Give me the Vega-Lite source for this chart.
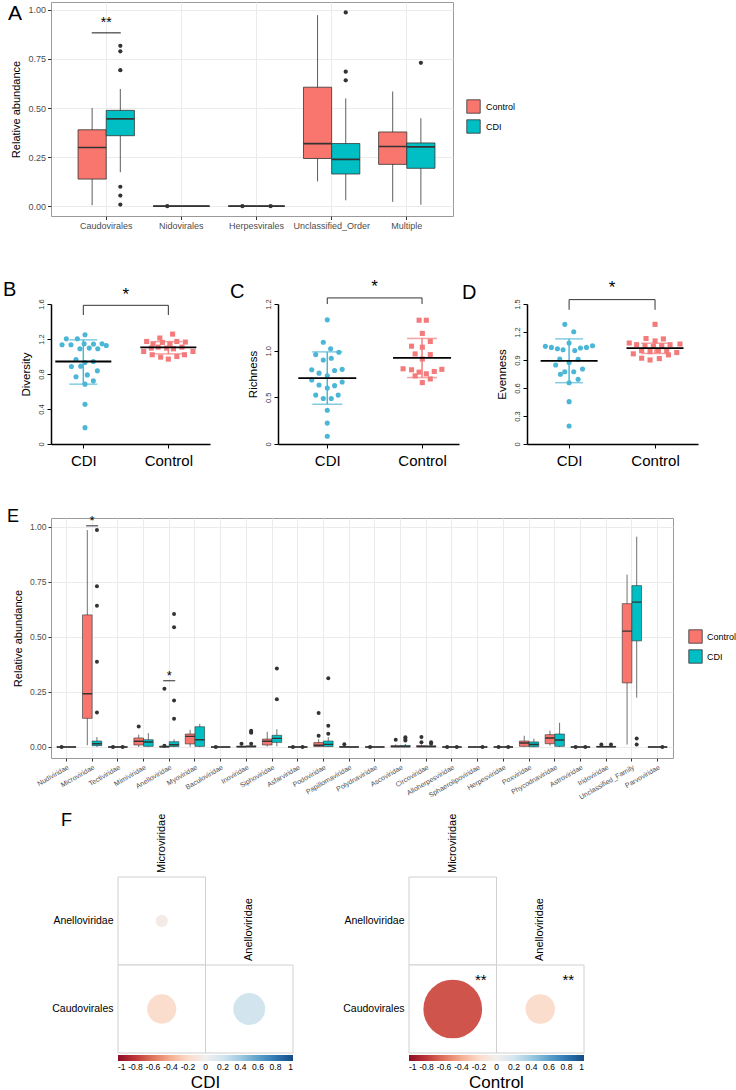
{
"$schema": "https://vega.github.io/schema/vega-lite/v6.json",
"padding": {"left": 3, "top": 1, "right": 0, "bottom": 0},
"config": {"font": "Liberation Sans", "view": {"stroke": null}, "axis": {"titleFontWeight": "normal"}, "title": {"fontWeight": "normal", "color": "black"}},
"datasets": {
"aBox": [
{"cat":"Caudovirales","grp":"Control","lo":0.005,"q1":0.138,"med":0.299,"q3":0.389,"hi":0.50},
{"cat":"Caudovirales","grp":"CDI","lo":0.173,"q1":0.359,"med":0.445,"q3":0.488,"hi":0.597},
{"cat":"Nidovirales","grp":"Control","lo":0,"q1":0,"med":0,"q3":0,"hi":0},
{"cat":"Nidovirales","grp":"CDI","lo":0,"q1":0,"med":0,"q3":0,"hi":0},
{"cat":"Herpesvirales","grp":"Control","lo":0,"q1":0,"med":0,"q3":0,"hi":0},
{"cat":"Herpesvirales","grp":"CDI","lo":0,"q1":0,"med":0,"q3":0,"hi":0},
{"cat":"Unclassified_Order","grp":"Control","lo":0.126,"q1":0.243,"med":0.319,"q3":0.606,"hi":0.973},
{"cat":"Unclassified_Order","grp":"CDI","lo":0.03,"q1":0.164,"med":0.238,"q3":0.319,"hi":0.549},
{"cat":"Multiple","grp":"Control","lo":0.022,"q1":0.213,"med":0.304,"q3":0.378,"hi":0.584},
{"cat":"Multiple","grp":"CDI","lo":0.008,"q1":0.193,"med":0.302,"q3":0.322,"hi":0.448}
],
"aOut": [
{"cat":"Caudovirales","grp":"CDI","v":0.817},{"cat":"Caudovirales","grp":"CDI","v":0.789},{"cat":"Caudovirales","grp":"CDI","v":0.693},
{"cat":"Caudovirales","grp":"CDI","v":0.099},{"cat":"Caudovirales","grp":"CDI","v":0.054},{"cat":"Caudovirales","grp":"CDI","v":0.008},
{"cat":"Nidovirales","grp":"Control","v":0},{"cat":"Herpesvirales","grp":"Control","v":0},{"cat":"Herpesvirales","grp":"CDI","v":0},
{"cat":"Unclassified_Order","grp":"CDI","v":0.987},{"cat":"Unclassified_Order","grp":"CDI","v":0.685},{"cat":"Unclassified_Order","grp":"CDI","v":0.641},
{"cat":"Multiple","grp":"CDI","v":0.73}
],
"eBox": [
{"cat":"Nudiviridae","grp":"Control","lo":0,"q1":0,"med":0,"q3":0,"hi":0},
{"cat":"Nudiviridae","grp":"CDI","lo":0,"q1":0,"med":0,"q3":0,"hi":0},
{"cat":"Microviridae","grp":"Control","lo":0.008,"q1":0.13,"med":0.242,"q3":0.60,"hi":0.985},
{"cat":"Microviridae","grp":"CDI","lo":0,"q1":0.006,"med":0.015,"q3":0.027,"hi":0.045},
{"cat":"Tectiviridae","grp":"Control","lo":0,"q1":0,"med":0,"q3":0,"hi":0},
{"cat":"Tectiviridae","grp":"CDI","lo":0,"q1":0,"med":0,"q3":0,"hi":0},
{"cat":"Mimiviridae","grp":"Control","lo":0,"q1":0.009,"med":0.026,"q3":0.041,"hi":0.056},
{"cat":"Mimiviridae","grp":"CDI","lo":0,"q1":0.003,"med":0.023,"q3":0.033,"hi":0.063},
{"cat":"Anelloviridae","grp":"Control","lo":0,"q1":0,"med":0.001,"q3":0.004,"hi":0.008},
{"cat":"Anelloviridae","grp":"CDI","lo":0,"q1":0.002,"med":0.01,"q3":0.024,"hi":0.035},
{"cat":"Myoviridae","grp":"Control","lo":0.001,"q1":0.014,"med":0.048,"q3":0.059,"hi":0.078},
{"cat":"Myoviridae","grp":"CDI","lo":0,"q1":0.003,"med":0.033,"q3":0.092,"hi":0.105},
{"cat":"Baculoviridae","grp":"Control","lo":0,"q1":0,"med":0,"q3":0,"hi":0},
{"cat":"Baculoviridae","grp":"CDI","lo":0,"q1":0,"med":0,"q3":0,"hi":0},
{"cat":"Inoviridae","grp":"Control","lo":0,"q1":0,"med":0.001,"q3":0.004,"hi":0.008},
{"cat":"Inoviridae","grp":"CDI","lo":0,"q1":0,"med":0.002,"q3":0.005,"hi":0.01},
{"cat":"Siphoviridae","grp":"Control","lo":0.002,"q1":0.009,"med":0.026,"q3":0.036,"hi":0.069},
{"cat":"Siphoviridae","grp":"CDI","lo":0.003,"q1":0.021,"med":0.039,"q3":0.053,"hi":0.081},
{"cat":"Asfarviridae","grp":"Control","lo":0,"q1":0,"med":0,"q3":0,"hi":0},
{"cat":"Asfarviridae","grp":"CDI","lo":0,"q1":0,"med":0,"q3":0,"hi":0},
{"cat":"Podoviridae","grp":"Control","lo":0,"q1":0.002,"med":0.008,"q3":0.02,"hi":0.035},
{"cat":"Podoviridae","grp":"CDI","lo":0,"q1":0.002,"med":0.012,"q3":0.027,"hi":0.045},
{"cat":"Papillomaviridae","grp":"Control","lo":0,"q1":0,"med":0,"q3":0.002,"hi":0.005},
{"cat":"Papillomaviridae","grp":"CDI","lo":0,"q1":0,"med":0,"q3":0,"hi":0},
{"cat":"Polydnaviridae","grp":"Control","lo":0,"q1":0,"med":0,"q3":0,"hi":0},
{"cat":"Polydnaviridae","grp":"CDI","lo":0,"q1":0,"med":0,"q3":0,"hi":0},
{"cat":"Ascoviridae","grp":"Control","lo":0,"q1":0,"med":0.002,"q3":0.006,"hi":0.012},
{"cat":"Ascoviridae","grp":"CDI","lo":0,"q1":0,"med":0.002,"q3":0.007,"hi":0.014},
{"cat":"Circoviridae","grp":"Control","lo":0,"q1":0,"med":0.002,"q3":0.006,"hi":0.012},
{"cat":"Circoviridae","grp":"CDI","lo":0,"q1":0,"med":0.002,"q3":0.005,"hi":0.01},
{"cat":"Alloherpesviridae","grp":"Control","lo":0,"q1":0,"med":0,"q3":0,"hi":0},
{"cat":"Alloherpesviridae","grp":"CDI","lo":0,"q1":0,"med":0,"q3":0,"hi":0},
{"cat":"Sphaerolipoviridae","grp":"Control","lo":0,"q1":0,"med":0,"q3":0,"hi":0},
{"cat":"Sphaerolipoviridae","grp":"CDI","lo":0,"q1":0,"med":0,"q3":0,"hi":0},
{"cat":"Herpesviridae","grp":"Control","lo":0,"q1":0,"med":0,"q3":0,"hi":0},
{"cat":"Herpesviridae","grp":"CDI","lo":0,"q1":0,"med":0,"q3":0,"hi":0},
{"cat":"Poxviridae","grp":"Control","lo":0,"q1":0.003,"med":0.018,"q3":0.027,"hi":0.051},
{"cat":"Poxviridae","grp":"CDI","lo":0,"q1":0.001,"med":0.011,"q3":0.023,"hi":0.038},
{"cat":"Phycodnaviridae","grp":"Control","lo":0.006,"q1":0.015,"med":0.041,"q3":0.056,"hi":0.074},
{"cat":"Phycodnaviridae","grp":"CDI","lo":0,"q1":0.003,"med":0.032,"q3":0.059,"hi":0.11},
{"cat":"Astroviridae","grp":"Control","lo":0,"q1":0,"med":0,"q3":0,"hi":0},
{"cat":"Astroviridae","grp":"CDI","lo":0,"q1":0,"med":0,"q3":0,"hi":0},
{"cat":"Iridoviridae","grp":"Control","lo":0,"q1":0,"med":0.001,"q3":0.003,"hi":0.006},
{"cat":"Iridoviridae","grp":"CDI","lo":0,"q1":0,"med":0.001,"q3":0.003,"hi":0.006},
{"cat":"Unclassified_Family","grp":"Control","lo":0.011,"q1":0.291,"med":0.526,"q3":0.651,"hi":0.783},
{"cat":"Unclassified_Family","grp":"CDI","lo":0.224,"q1":0.482,"med":0.658,"q3":0.733,"hi":0.955},
{"cat":"Parvoviridae","grp":"Control","lo":0,"q1":0,"med":0,"q3":0,"hi":0},
{"cat":"Parvoviridae","grp":"CDI","lo":0,"q1":0,"med":0,"q3":0,"hi":0}
],
"eOut": [
{"cat":"Nudiviridae","grp":"Control","v":0},
{"cat":"Microviridae","grp":"CDI","v":0.986},{"cat":"Microviridae","grp":"CDI","v":0.73},{"cat":"Microviridae","grp":"CDI","v":0.642},{"cat":"Microviridae","grp":"CDI","v":0.387},{"cat":"Microviridae","grp":"CDI","v":0.157},
{"cat":"Tectiviridae","grp":"Control","v":0},{"cat":"Tectiviridae","grp":"CDI","v":0},
{"cat":"Mimiviridae","grp":"Control","v":0.093},
{"cat":"Anelloviridae","grp":"Control","v":0.265},{"cat":"Anelloviridae","grp":"Control","v":0.006},
{"cat":"Anelloviridae","grp":"CDI","v":0.604},{"cat":"Anelloviridae","grp":"CDI","v":0.544},{"cat":"Anelloviridae","grp":"CDI","v":0.211},{"cat":"Anelloviridae","grp":"CDI","v":0.128},
{"cat":"Baculoviridae","grp":"Control","v":0},
{"cat":"Inoviridae","grp":"Control","v":0.015},{"cat":"Inoviridae","grp":"CDI","v":0.074},{"cat":"Inoviridae","grp":"CDI","v":0.068},{"cat":"Inoviridae","grp":"CDI","v":0.065},{"cat":"Inoviridae","grp":"CDI","v":0.015},
{"cat":"Siphoviridae","grp":"CDI","v":0.357},{"cat":"Siphoviridae","grp":"CDI","v":0.217},
{"cat":"Asfarviridae","grp":"Control","v":0},{"cat":"Asfarviridae","grp":"CDI","v":0},
{"cat":"Podoviridae","grp":"Control","v":0.154},{"cat":"Podoviridae","grp":"Control","v":0.051},
{"cat":"Podoviridae","grp":"CDI","v":0.312},{"cat":"Podoviridae","grp":"CDI","v":0.096},{"cat":"Podoviridae","grp":"CDI","v":0.06},
{"cat":"Papillomaviridae","grp":"Control","v":0.012},
{"cat":"Polydnaviridae","grp":"Control","v":0},
{"cat":"Ascoviridae","grp":"Control","v":0.033},{"cat":"Ascoviridae","grp":"CDI","v":0.044},{"cat":"Ascoviridae","grp":"CDI","v":0.036},{"cat":"Ascoviridae","grp":"CDI","v":0.029},
{"cat":"Circoviridae","grp":"Control","v":0.045},{"cat":"Circoviridae","grp":"Control","v":0.021},{"cat":"Circoviridae","grp":"CDI","v":0.021},{"cat":"Circoviridae","grp":"CDI","v":0.015},
{"cat":"Alloherpesviridae","grp":"Control","v":0},{"cat":"Alloherpesviridae","grp":"CDI","v":0},
{"cat":"Sphaerolipoviridae","grp":"CDI","v":0},
{"cat":"Herpesviridae","grp":"Control","v":0},{"cat":"Herpesviridae","grp":"CDI","v":0},
{"cat":"Astroviridae","grp":"Control","v":0},{"cat":"Astroviridae","grp":"CDI","v":0},
{"cat":"Iridoviridae","grp":"Control","v":0.011},{"cat":"Iridoviridae","grp":"CDI","v":0.011},
{"cat":"Unclassified_Family","grp":"CDI","v":0.038},{"cat":"Unclassified_Family","grp":"CDI","v":0.011},
{"cat":"Parvoviridae","grp":"CDI","v":0}
],
"eSig": [{"cat":"Microviridae","y":1.0045,"ty":1.026,"t":"*"},{"cat":"Anelloviridae","y":0.301,"ty":0.324,"t":"*"}],
"pts": [
{"p":"B","g":"CDI","u":1.02,"v":1.249},{"p":"B","g":"CDI","u":0.80,"v":1.203},{"p":"B","g":"CDI","u":0.93,"v":1.203},{"p":"B","g":"CDI","u":0.75,"v":1.134},
{"p":"B","g":"CDI","u":0.855,"v":1.134},{"p":"B","g":"CDI","u":1.01,"v":1.145},{"p":"B","g":"CDI","u":1.12,"v":1.142},{"p":"B","g":"CDI","u":1.22,"v":1.145},
{"p":"B","g":"CDI","u":1.27,"v":1.126},{"p":"B","g":"CDI","u":0.96,"v":1.088},{"p":"B","g":"CDI","u":1.07,"v":1.096},{"p":"B","g":"CDI","u":1.17,"v":1.088},
{"p":"B","g":"CDI","u":0.914,"v":0.966},{"p":"B","g":"CDI","u":1.02,"v":0.932},{"p":"B","g":"CDI","u":1.118,"v":0.943},{"p":"B","g":"CDI","u":0.86,"v":0.886},
{"p":"B","g":"CDI","u":0.97,"v":0.89},{"p":"B","g":"CDI","u":1.165,"v":0.836},{"p":"B","g":"CDI","u":0.914,"v":0.768},{"p":"B","g":"CDI","u":1.047,"v":0.79},
{"p":"B","g":"CDI","u":1.118,"v":0.722},{"p":"B","g":"CDI","u":1.02,"v":0.684},{"p":"B","g":"CDI","u":1.02,"v":0.454},{"p":"B","g":"CDI","u":1.02,"v":0.187},
{"p":"B","g":"Control","u":2.05,"v":1.256},{"p":"B","g":"Control","u":1.90,"v":1.211},{"p":"B","g":"Control","u":1.745,"v":1.172},{"p":"B","g":"Control","u":1.82,"v":1.146},
{"p":"B","g":"Control","u":1.93,"v":1.161},{"p":"B","g":"Control","u":2.02,"v":1.142},{"p":"B","g":"Control","u":2.10,"v":1.172},{"p":"B","g":"Control","u":2.20,"v":1.165},
{"p":"B","g":"Control","u":1.71,"v":1.058},{"p":"B","g":"Control","u":1.80,"v":1.096},{"p":"B","g":"Control","u":1.88,"v":1.107},{"p":"B","g":"Control","u":1.98,"v":1.096},
{"p":"B","g":"Control","u":2.06,"v":1.088},{"p":"B","g":"Control","u":2.16,"v":1.107},{"p":"B","g":"Control","u":2.29,"v":1.058},{"p":"B","g":"Control","u":1.81,"v":1.02},
{"p":"B","g":"Control","u":1.91,"v":0.993},{"p":"B","g":"Control","u":2.0,"v":0.97},{"p":"B","g":"Control","u":2.10,"v":1.0},{"p":"B","g":"Control","u":2.19,"v":1.02},
{"p":"C","g":"CDI","u":1.0,"v":1.33},{"p":"C","g":"CDI","u":0.958,"v":1.09},{"p":"C","g":"CDI","u":0.878,"v":0.958},{"p":"C","g":"CDI","u":1.035,"v":1.02},
{"p":"C","g":"CDI","u":1.122,"v":0.983},{"p":"C","g":"CDI","u":0.958,"v":0.90},{"p":"C","g":"CDI","u":1.042,"v":0.918},{"p":"C","g":"CDI","u":0.836,"v":0.795},
{"p":"C","g":"CDI","u":0.913,"v":0.759},{"p":"C","g":"CDI","u":1.077,"v":0.788},{"p":"C","g":"CDI","u":1.157,"v":0.80},{"p":"C","g":"CDI","u":0.836,"v":0.687},
{"p":"C","g":"CDI","u":1.0,"v":0.73},{"p":"C","g":"CDI","u":1.157,"v":0.665},{"p":"C","g":"CDI","u":0.913,"v":0.632},{"p":"C","g":"CDI","u":1.0,"v":0.60},
{"p":"C","g":"CDI","u":1.077,"v":0.625},{"p":"C","g":"CDI","u":0.878,"v":0.524},{"p":"C","g":"CDI","u":0.958,"v":0.488},{"p":"C","g":"CDI","u":1.042,"v":0.488},
{"p":"C","g":"CDI","u":1.115,"v":0.524},{"p":"C","g":"CDI","u":1.0,"v":0.361},{"p":"C","g":"CDI","u":1.0,"v":0.224},{"p":"C","g":"CDI","u":1.0,"v":0.083},
{"p":"C","g":"Control","u":1.969,"v":1.326},{"p":"C","g":"Control","u":2.045,"v":1.326},{"p":"C","g":"Control","u":2.003,"v":1.185},{"p":"C","g":"Control","u":1.889,"v":1.048},
{"p":"C","g":"Control","u":2.087,"v":1.099},{"p":"C","g":"Control","u":2.003,"v":1.037},{"p":"C","g":"Control","u":1.927,"v":0.965},{"p":"C","g":"Control","u":2.087,"v":0.958},
{"p":"C","g":"Control","u":2.003,"v":0.911},{"p":"C","g":"Control","u":1.80,"v":0.806},{"p":"C","g":"Control","u":1.889,"v":0.795},{"p":"C","g":"Control","u":1.969,"v":0.77},
{"p":"C","g":"Control","u":2.045,"v":0.752},{"p":"C","g":"Control","u":2.129,"v":0.777},{"p":"C","g":"Control","u":2.209,"v":0.80},{"p":"C","g":"Control","u":1.927,"v":0.73},
{"p":"C","g":"Control","u":2.087,"v":0.697},{"p":"C","g":"Control","u":2.003,"v":0.658},
{"p":"D","g":"CDI","u":0.95,"v":1.282},{"p":"D","g":"CDI","u":1.054,"v":1.202},{"p":"D","g":"CDI","u":0.724,"v":1.046},{"p":"D","g":"CDI","u":0.794,"v":1.035},
{"p":"D","g":"CDI","u":0.864,"v":1.021},{"p":"D","g":"CDI","u":0.93,"v":1.01},{"p":"D","g":"CDI","u":1.0,"v":1.082},{"p":"D","g":"CDI","u":1.066,"v":1.002},
{"p":"D","g":"CDI","u":1.132,"v":1.028},{"p":"D","g":"CDI","u":1.202,"v":1.035},{"p":"D","g":"CDI","u":1.272,"v":1.053},{"p":"D","g":"CDI","u":0.891,"v":0.91},
{"p":"D","g":"CDI","u":1.0,"v":0.872},{"p":"D","g":"CDI","u":1.105,"v":0.908},{"p":"D","g":"CDI","u":0.844,"v":0.846},{"p":"D","g":"CDI","u":0.949,"v":0.774},
{"p":"D","g":"CDI","u":1.054,"v":0.774},{"p":"D","g":"CDI","u":1.156,"v":0.803},{"p":"D","g":"CDI","u":0.899,"v":0.748},{"p":"D","g":"CDI","u":1.105,"v":0.694},
{"p":"D","g":"CDI","u":1.0,"v":0.657},{"p":"D","g":"CDI","u":1.0,"v":0.454},{"p":"D","g":"CDI","u":1.0,"v":0.193},
{"p":"D","g":"Control","u":2.0,"v":1.282},{"p":"D","g":"Control","u":1.895,"v":1.13},{"p":"D","g":"Control","u":2.0,"v":1.104},{"p":"D","g":"Control","u":2.097,"v":1.126},
{"p":"D","g":"Control","u":1.70,"v":1.082},{"p":"D","g":"Control","u":1.786,"v":1.064},{"p":"D","g":"Control","u":1.883,"v":1.053},{"p":"D","g":"Control","u":1.98,"v":1.046},
{"p":"D","g":"Control","u":2.078,"v":1.053},{"p":"D","g":"Control","u":2.175,"v":1.064},{"p":"D","g":"Control","u":2.29,"v":1.071},{"p":"D","g":"Control","u":1.747,"v":0.966},
{"p":"D","g":"Control","u":1.844,"v":1.0},{"p":"D","g":"Control","u":1.942,"v":0.99},{"p":"D","g":"Control","u":2.039,"v":1.0},{"p":"D","g":"Control","u":2.136,"v":1.0},
{"p":"D","g":"Control","u":2.253,"v":0.98},{"p":"D","g":"Control","u":1.844,"v":0.919},{"p":"D","g":"Control","u":1.942,"v":0.90},{"p":"D","g":"Control","u":2.05,"v":0.915},
{"p":"D","g":"Control","u":2.156,"v":0.955}
],
"sum": [
{"p":"B","g":"CDI","c":1,"mean":0.943,"lo":0.684,"hi":1.19},{"p":"B","g":"Control","c":2,"mean":1.104,"lo":1.03,"hi":1.17},
{"p":"C","g":"CDI","c":1,"mean":0.705,"lo":0.426,"hi":0.987},{"p":"C","g":"Control","c":2,"mean":0.922,"lo":0.712,"hi":1.131},
{"p":"D","g":"CDI","c":1,"mean":0.89,"lo":0.657,"hi":1.126},{"p":"D","g":"Control","c":2,"mean":1.028,"lo":0.97,"hi":1.08}
],
"br": [
{"p":"B","x":1,"x2":2,"y":1.585,"y2":1.585},{"p":"B","x":1,"x2":1,"y":1.474,"y2":1.585},{"p":"B","x":2,"x2":2,"y":1.474,"y2":1.585},
{"p":"C","x":1,"x2":2,"y":1.565,"y2":1.565},{"p":"C","x":1,"x2":1,"y":1.5,"y2":1.565},{"p":"C","x":2,"x2":2,"y":1.5,"y2":1.565},
{"p":"D","x":1,"x2":2,"y":1.547,"y2":1.547},{"p":"D","x":1,"x2":1,"y":1.438,"y2":1.547},{"p":"D","x":2,"x2":2,"y":1.438,"y2":1.547}
],
"stars": [{"p":"B","x":1.5,"y":1.706,"t":"*"},{"p":"C","x":1.5,"y":1.685,"t":"*"},{"p":"D","x":1.5,"y":1.674,"t":"*"}],
"corr": [
{"panel":"CDI","row":"Anelloviridae","col":"Microviridae","r":-0.04,"mag":0.031,"sig":""},
{"panel":"CDI","row":"Caudovirales","col":"Microviridae","r":-0.18,"mag":0.174,"sig":""},
{"panel":"CDI","row":"Caudovirales","col":"Anelloviridae","r":0.2,"mag":0.207,"sig":""},
{"panel":"Control","row":"Anelloviridae","col":"Microviridae","r":0,"mag":0,"sig":""},
{"panel":"Control","row":"Caudovirales","col":"Microviridae","r":-0.7,"mag":0.7,"sig":"**"},
{"panel":"Control","row":"Caudovirales","col":"Anelloviridae","r":-0.18,"mag":0.178,"sig":"**"}
],
"clab": [{"col":"Microviridae","row":"Anelloviridae"},{"col":"Anelloviridae","row":"Caudovirales"}]
},
"vconcat": [
{"vconcat": [
 {"vconcat": [
  {
   "width": 402, "height": 214,
   "view": {"stroke": "#9a9a9a"},
   "title": {"text": "A", "anchor": "start", "frame": "group", "offset": 0, "baseline": "alphabetic", "dx": -43, "dy": 39, "fontSize": 21},
   "layer": [
    {"data": {"name": "aBox"}, "mark": {"type": "rule", "color": "#333333", "strokeWidth": 0.8},
     "encoding": {
      "x": {"field": "cat", "type": "nominal", "sort": ["Caudovirales","Nidovirales","Herpesvirales","Unclassified_Order","Multiple"], "scale": {"paddingInner": 0.25, "paddingOuter": 0.3, "align": 0.6},
            "axis": {"title": null, "labelAngle": 0, "labelFontSize": 9, "labelColor": "#4d4d4d", "tickColor": "#333333", "tickSize": 3.5, "domain": false, "grid": true, "gridColor": "#ebebeb", "labelPadding": 2, "bandPosition": 0.5, "labelOverlap": false}},
      "xOffset": {"field": "grp", "type": "nominal", "sort": ["Control","CDI"], "scale": {"paddingInner": 0, "paddingOuter": 0}},
      "y": {"field": "lo", "type": "quantitative", "scale": {"domain": [-0.05, 1.04], "nice": false, "zero": false},
            "axis": {"title": "Relative abundance", "titleFontSize": 11, "titleColor": "black", "titlePadding": 6, "values": [0,0.25,0.5,0.75,1], "tickCount": 10, "format": ".2f", "labelFontSize": 9, "labelColor": "#4d4d4d", "tickColor": "#333333", "tickSize": 3.5, "domain": false, "grid": true, "gridColor": "#ebebeb", "labelPadding": 2}},
      "y2": {"field": "hi"}}},
    {"data": {"name": "aBox"}, "mark": {"type": "bar", "stroke": "#333333", "strokeWidth": 0.8},
     "encoding": {
      "x": {"field": "cat", "type": "nominal", "sort": ["Caudovirales","Nidovirales","Herpesvirales","Unclassified_Order","Multiple"]},
      "xOffset": {"field": "grp", "type": "nominal", "sort": ["Control","CDI"]},
      "y": {"field": "q1", "type": "quantitative", "scale": {"domain": [-0.05, 1.04], "nice": false, "zero": false}},
      "y2": {"field": "q3"},
      "color": {"field": "grp", "type": "nominal", "scale": {"domain": ["Control","CDI"], "range": ["#F8766D","#00BFC4"]},
        "legend": {"title": null, "orient": "none", "legendX": 415, "legendY": 97, "symbolType": "square", "symbolSize": 180, "symbolStrokeColor": "#333333", "symbolStrokeWidth": 0.8, "labelFontSize": 9, "labelColor": "black", "rowPadding": 3, "padding": 0, "labelOffset": 5}}}},
    {"data": {"name": "aBox"}, "mark": {"type": "bar", "stroke": "#333333", "strokeWidth": 1.7, "fillOpacity": 0},
     "encoding": {
      "x": {"field": "cat", "type": "nominal", "sort": ["Caudovirales","Nidovirales","Herpesvirales","Unclassified_Order","Multiple"]},
      "xOffset": {"field": "grp", "type": "nominal", "sort": ["Control","CDI"]},
      "y": {"field": "med", "type": "quantitative", "scale": {"domain": [-0.05, 1.04], "nice": false, "zero": false}},
      "y2": {"field": "med"}}},
    {"data": {"name": "aOut"}, "mark": {"type": "point", "filled": true, "color": "#333333", "size": 18, "opacity": 1},
     "encoding": {
      "x": {"field": "cat", "type": "nominal", "sort": ["Caudovirales","Nidovirales","Herpesvirales","Unclassified_Order","Multiple"]},
      "xOffset": {"field": "grp", "type": "nominal", "sort": ["Control","CDI"]},
      "y": {"field": "v", "type": "quantitative", "scale": {"domain": [-0.05, 1.04], "nice": false, "zero": false}}}},
    {"data": {"values": [{"cat": "Caudovirales", "y": 0.883, "ty": 0.935, "t": "**"}]}, "mark": {"type": "tick", "color": "black", "size": 29, "thickness": 1.3},
     "encoding": {
      "x": {"field": "cat", "type": "nominal", "sort": ["Caudovirales","Nidovirales","Herpesvirales","Unclassified_Order","Multiple"]},
      "y": {"field": "y", "type": "quantitative", "scale": {"domain": [-0.05, 1.04], "nice": false, "zero": false}}}},
    {"data": {"values": [{"cat": "Caudovirales", "y": 0.883, "ty": 0.935, "t": "**"}]}, "mark": {"type": "text", "fontSize": 14, "baseline": "middle"},
     "encoding": {
      "x": {"field": "cat", "type": "nominal", "sort": ["Caudovirales","Nidovirales","Herpesvirales","Unclassified_Order","Multiple"]},
      "y": {"field": "ty", "type": "quantitative", "scale": {"domain": [-0.05, 1.04], "nice": false, "zero": false}},
      "text": {"field": "t"}}}
   ]
  },
  {"hconcat": [
   {
    "width": 159, "height": 140,
    "title": {"text": "B", "anchor": "start", "frame": "group", "offset": 0, "baseline": "alphabetic", "dx": -48, "dy": 30, "fontSize": 20},
    "layer": [
     {"data": {"name": "pts"}, "transform": [{"filter": "datum.p == 'B'"}], "mark": {"type": "point", "filled": true, "size": 26, "opacity": 1},
      "encoding": {
       "x": {"field": "u", "type": "quantitative", "scale": {"domain": [0.62, 2.49], "nice": false, "zero": false},
             "axis": {"values": [1,2], "labelExpr": "datum.value == 1 ? 'CDI' : 'Control'", "title": null, "grid": false, "domainColor": "black", "domainWidth": 1.5, "tickColor": "black", "tickSize": 4, "labelFontSize": 15, "labelColor": "black", "labelPadding": 5}},
       "y": {"field": "v", "type": "quantitative", "scale": {"domain": [0, 1.6], "nice": false},
             "axis": {"values": [0,0.4,0.8,1.2,1.6], "tickCount": 10, "labelExpr": "datum.value == 0 ? '0' : format(datum.value, '.1f')", "labelAngle": -90, "labelAlign": "center", "labelBaseline": "bottom", "labelFontSize": 7.5, "labelColor": "#333333", "labelOverlap": false, "tickSize": 4, "tickColor": "black", "domainColor": "black", "domainWidth": 1.5, "grid": false, "title": "Diversity", "titleFontSize": 11.5, "titleColor": "black", "titlePadding": 6, "labelPadding": 2}},
       "color": {"field": "g", "type": "nominal", "scale": {"domain": ["CDI","Control"], "range": ["#4BB6D6","#F47B7B"]}, "legend": null},
       "shape": {"field": "g", "type": "nominal", "scale": {"domain": ["CDI","Control"], "range": ["circle","square"]}, "legend": null}}},
     {"data": {"name": "sum"}, "transform": [{"filter": "datum.p == 'B'"}], "mark": {"type": "rule", "strokeWidth": 1.5},
      "encoding": {"x": {"field": "c", "type": "quantitative"}, "y": {"field": "lo", "type": "quantitative"}, "y2": {"field": "hi"}, "color": {"field": "g", "type": "nominal", "legend": null}}},
     {"data": {"name": "sum"}, "transform": [{"filter": "datum.p == 'B'"}], "mark": {"type": "tick", "orient": "horizontal", "size": 28, "thickness": 1.5},
      "encoding": {"x": {"field": "c", "type": "quantitative"}, "y": {"field": "lo", "type": "quantitative"}, "color": {"field": "g", "type": "nominal", "legend": null}}},
     {"data": {"name": "sum"}, "transform": [{"filter": "datum.p == 'B'"}], "mark": {"type": "tick", "orient": "horizontal", "size": 28, "thickness": 1.5},
      "encoding": {"x": {"field": "c", "type": "quantitative"}, "y": {"field": "hi", "type": "quantitative"}, "color": {"field": "g", "type": "nominal", "legend": null}}},
     {"data": {"name": "sum"}, "transform": [{"filter": "datum.p == 'B'"}], "mark": {"type": "tick", "orient": "horizontal", "size": 56, "thickness": 1.8, "color": "black", "opacity": 1},
      "encoding": {"x": {"field": "c", "type": "quantitative"}, "y": {"field": "mean", "type": "quantitative"}}},
     {"data": {"name": "br"}, "transform": [{"filter": "datum.p == 'B'"}], "mark": {"type": "rule", "color": "#333333", "strokeWidth": 1},
      "encoding": {"x": {"field": "x", "type": "quantitative"}, "x2": {"field": "x2"}, "y": {"field": "y", "type": "quantitative"}, "y2": {"field": "y2"}}},
     {"data": {"name": "stars"}, "transform": [{"filter": "datum.p == 'B'"}], "mark": {"type": "text", "fontSize": 17, "baseline": "middle"},
      "encoding": {"x": {"field": "x", "type": "quantitative"}, "y": {"field": "y", "type": "quantitative"}, "text": {"field": "t"}}}
    ]
   },
   {
    "width": 181, "height": 140,
    "title": {"text": "C", "anchor": "start", "frame": "group", "offset": 0, "baseline": "alphabetic", "dx": -48, "dy": 40, "fontSize": 20},
    "layer": [
     {"data": {"name": "pts"}, "transform": [{"filter": "datum.p == 'C'"}], "mark": {"type": "point", "filled": true, "size": 26, "opacity": 1},
      "encoding": {
       "x": {"field": "u", "type": "quantitative", "scale": {"domain": [0.48, 2.39], "nice": false, "zero": false},
             "axis": {"values": [1,2], "labelExpr": "datum.value == 1 ? 'CDI' : 'Control'", "title": null, "grid": false, "domainColor": "black", "domainWidth": 1.5, "tickColor": "black", "tickSize": 4, "labelFontSize": 15, "labelColor": "black", "labelPadding": 5}},
       "y": {"field": "v", "type": "quantitative", "scale": {"domain": [0, 1.5], "nice": false},
             "axis": {"values": [0,0.5,1,1.5], "tickCount": 10, "labelExpr": "datum.value == 1.5 ? '1.2' : (datum.value == 0 ? '0' : format(datum.value, '.1f'))", "labelAngle": -90, "labelAlign": "center", "labelBaseline": "bottom", "labelFontSize": 7.5, "labelColor": "#333333", "labelOverlap": false, "tickSize": 4, "tickColor": "black", "domainColor": "black", "domainWidth": 1.5, "grid": false, "title": "Richness", "titleFontSize": 11.5, "titleColor": "black", "titlePadding": 6, "labelPadding": 2}},
       "color": {"field": "g", "type": "nominal", "scale": {"domain": ["CDI","Control"], "range": ["#4BB6D6","#F47B7B"]}, "legend": null},
       "shape": {"field": "g", "type": "nominal", "scale": {"domain": ["CDI","Control"], "range": ["circle","square"]}, "legend": null}}},
     {"data": {"name": "sum"}, "transform": [{"filter": "datum.p == 'C'"}], "mark": {"type": "rule", "strokeWidth": 1.5},
      "encoding": {"x": {"field": "c", "type": "quantitative"}, "y": {"field": "lo", "type": "quantitative"}, "y2": {"field": "hi"}, "color": {"field": "g", "type": "nominal", "legend": null}}},
     {"data": {"name": "sum"}, "transform": [{"filter": "datum.p == 'C'"}], "mark": {"type": "tick", "orient": "horizontal", "size": 30, "thickness": 1.5},
      "encoding": {"x": {"field": "c", "type": "quantitative"}, "y": {"field": "lo", "type": "quantitative"}, "color": {"field": "g", "type": "nominal", "legend": null}}},
     {"data": {"name": "sum"}, "transform": [{"filter": "datum.p == 'C'"}], "mark": {"type": "tick", "orient": "horizontal", "size": 30, "thickness": 1.5},
      "encoding": {"x": {"field": "c", "type": "quantitative"}, "y": {"field": "hi", "type": "quantitative"}, "color": {"field": "g", "type": "nominal", "legend": null}}},
     {"data": {"name": "sum"}, "transform": [{"filter": "datum.p == 'C'"}], "mark": {"type": "tick", "orient": "horizontal", "size": 58, "thickness": 1.8, "color": "black", "opacity": 1},
      "encoding": {"x": {"field": "c", "type": "quantitative"}, "y": {"field": "mean", "type": "quantitative"}}},
     {"data": {"name": "br"}, "transform": [{"filter": "datum.p == 'C'"}], "mark": {"type": "rule", "color": "#333333", "strokeWidth": 1},
      "encoding": {"x": {"field": "x", "type": "quantitative"}, "x2": {"field": "x2"}, "y": {"field": "y", "type": "quantitative"}, "y2": {"field": "y2"}}},
     {"data": {"name": "stars"}, "transform": [{"filter": "datum.p == 'C'"}], "mark": {"type": "text", "fontSize": 17, "baseline": "middle"},
      "encoding": {"x": {"field": "x", "type": "quantitative"}, "y": {"field": "y", "type": "quantitative"}, "text": {"field": "t"}}}
    ]
   },
   {
    "width": 171, "height": 140,
    "title": {"text": "D", "anchor": "start", "frame": "group", "offset": 0, "baseline": "alphabetic", "dx": -65, "dy": 40, "fontSize": 20},
    "layer": [
     {"data": {"name": "pts"}, "transform": [{"filter": "datum.p == 'D'"}], "mark": {"type": "point", "filled": true, "size": 26, "opacity": 1},
      "encoding": {
       "x": {"field": "u", "type": "quantitative", "scale": {"domain": [0.51, 2.5], "nice": false, "zero": false},
             "axis": {"values": [1,2], "labelExpr": "datum.value == 1 ? 'CDI' : 'Control'", "title": null, "grid": false, "domainColor": "black", "domainWidth": 1.5, "tickColor": "black", "tickSize": 4, "labelFontSize": 15, "labelColor": "black", "labelPadding": 5}},
       "y": {"field": "v", "type": "quantitative", "scale": {"domain": [0, 1.5], "nice": false},
             "axis": {"values": [0,0.3,0.6,0.9,1.2,1.5], "tickCount": 10, "labelExpr": "datum.value == 0 ? '0' : format(datum.value, '.1f')", "labelAngle": -90, "labelAlign": "center", "labelBaseline": "bottom", "labelFontSize": 7.5, "labelColor": "#333333", "labelOverlap": false, "tickSize": 4, "tickColor": "black", "domainColor": "black", "domainWidth": 1.5, "grid": false, "title": "Evenness", "titleFontSize": 11.5, "titleColor": "black", "titlePadding": 6, "labelPadding": 2}},
       "color": {"field": "g", "type": "nominal", "scale": {"domain": ["CDI","Control"], "range": ["#4BB6D6","#F47B7B"]}, "legend": null},
       "shape": {"field": "g", "type": "nominal", "scale": {"domain": ["CDI","Control"], "range": ["circle","square"]}, "legend": null}}},
     {"data": {"name": "sum"}, "transform": [{"filter": "datum.p == 'D'"}], "mark": {"type": "rule", "strokeWidth": 1.5},
      "encoding": {"x": {"field": "c", "type": "quantitative"}, "y": {"field": "lo", "type": "quantitative"}, "y2": {"field": "hi"}, "color": {"field": "g", "type": "nominal", "legend": null}}},
     {"data": {"name": "sum"}, "transform": [{"filter": "datum.p == 'D'"}], "mark": {"type": "tick", "orient": "horizontal", "size": 28, "thickness": 1.5},
      "encoding": {"x": {"field": "c", "type": "quantitative"}, "y": {"field": "lo", "type": "quantitative"}, "color": {"field": "g", "type": "nominal", "legend": null}}},
     {"data": {"name": "sum"}, "transform": [{"filter": "datum.p == 'D'"}], "mark": {"type": "tick", "orient": "horizontal", "size": 28, "thickness": 1.5},
      "encoding": {"x": {"field": "c", "type": "quantitative"}, "y": {"field": "hi", "type": "quantitative"}, "color": {"field": "g", "type": "nominal", "legend": null}}},
     {"data": {"name": "sum"}, "transform": [{"filter": "datum.p == 'D'"}], "mark": {"type": "tick", "orient": "horizontal", "size": 57, "thickness": 1.8, "color": "black", "opacity": 1},
      "encoding": {"x": {"field": "c", "type": "quantitative"}, "y": {"field": "mean", "type": "quantitative"}}},
     {"data": {"name": "br"}, "transform": [{"filter": "datum.p == 'D'"}], "mark": {"type": "rule", "color": "#333333", "strokeWidth": 1},
      "encoding": {"x": {"field": "x", "type": "quantitative"}, "x2": {"field": "x2"}, "y": {"field": "y", "type": "quantitative"}, "y2": {"field": "y2"}}},
     {"data": {"name": "stars"}, "transform": [{"filter": "datum.p == 'D'"}], "mark": {"type": "text", "fontSize": 17, "baseline": "middle"},
      "encoding": {"x": {"field": "x", "type": "quantitative"}, "y": {"field": "y", "type": "quantitative"}, "text": {"field": "t"}}}
    ]
   }
  ], "spacing": 68, "bounds": "flush",
  "resolve": {"scale": {"color": "independent", "shape": "independent", "xOffset": "independent"}, "legend": {"color": "independent", "shape": "independent"}}}
 ], "spacing": 46,
 "resolve": {"scale": {"color": "independent", "shape": "independent", "xOffset": "independent"}, "legend": {"color": "independent", "shape": "independent"}}},
 {
  "width": 622, "height": 240,
  "view": {"stroke": "#9a9a9a"},
  "title": {"text": "E", "anchor": "start", "frame": "group", "offset": 0, "baseline": "alphabetic", "dx": -44, "dy": 25, "fontSize": 18},
  "layer": [
   {"data": {"name": "eBox"}, "mark": {"type": "rule", "color": "#333333", "strokeWidth": 0.7},
    "encoding": {
     "x": {"field": "cat", "type": "nominal", "sort": ["Nudiviridae","Microviridae","Tectiviridae","Mimiviridae","Anelloviridae","Myoviridae","Baculoviridae","Inoviridae","Siphoviridae","Asfarviridae","Podoviridae","Papillomaviridae","Polydnaviridae","Ascoviridae","Circoviridae","Alloherpesviridae","Sphaerolipoviridae","Herpesviridae","Poxviridae","Phycodnaviridae","Astroviridae","Iridoviridae","Unclassified_Family","Parvoviridae"],
           "scale": {"paddingInner": 0.25, "paddingOuter": 0.225},
           "axis": {"title": null, "labelAngle": -30, "labelAlign": "right", "labelBaseline": "top", "labelFontSize": 7, "labelColor": "#4d4d4d", "tickColor": "#333333", "tickSize": 3, "domain": false, "grid": true, "gridColor": "#ebebeb", "labelPadding": 2, "bandPosition": 0.5, "labelOverlap": false, "labelLimit": 0}},
     "xOffset": {"field": "grp", "type": "nominal", "sort": ["Control","CDI"], "scale": {"paddingInner": 0, "paddingOuter": 0}},
     "y": {"field": "lo", "type": "quantitative", "scale": {"domain": [-0.05, 1.04], "nice": false, "zero": false},
           "axis": {"title": "Relative abundance", "titleFontSize": 11, "titleColor": "black", "titlePadding": 6, "values": [0,0.25,0.5,0.75,1], "tickCount": 10, "format": ".2f", "labelFontSize": 8.5, "labelColor": "#4d4d4d", "tickColor": "#333333", "tickSize": 3, "domain": false, "grid": true, "gridColor": "#ebebeb", "labelPadding": 2}},
     "y2": {"field": "hi"}}},
   {"data": {"name": "eBox"}, "mark": {"type": "bar", "stroke": "#333333", "strokeWidth": 0.6},
    "encoding": {
     "x": {"field": "cat", "type": "nominal", "sort": ["Nudiviridae","Microviridae","Tectiviridae","Mimiviridae","Anelloviridae","Myoviridae","Baculoviridae","Inoviridae","Siphoviridae","Asfarviridae","Podoviridae","Papillomaviridae","Polydnaviridae","Ascoviridae","Circoviridae","Alloherpesviridae","Sphaerolipoviridae","Herpesviridae","Poxviridae","Phycodnaviridae","Astroviridae","Iridoviridae","Unclassified_Family","Parvoviridae"]},
     "xOffset": {"field": "grp", "type": "nominal", "sort": ["Control","CDI"]},
     "y": {"field": "q1", "type": "quantitative", "scale": {"domain": [-0.05, 1.04], "nice": false, "zero": false}},
     "y2": {"field": "q3"},
     "color": {"field": "grp", "type": "nominal", "scale": {"domain": ["Control","CDI"], "range": ["#F8766D","#00BFC4"]},
       "legend": {"title": null, "orient": "none", "legendX": 637, "legendY": 111, "symbolType": "square", "symbolSize": 180, "symbolStrokeColor": "#333333", "symbolStrokeWidth": 0.8, "labelFontSize": 9, "labelColor": "black", "rowPadding": 3, "padding": 0, "labelOffset": 4}}}},
   {"data": {"name": "eBox"}, "mark": {"type": "bar", "stroke": "#333333", "strokeWidth": 1.4, "fillOpacity": 0},
    "encoding": {
     "x": {"field": "cat", "type": "nominal", "sort": ["Nudiviridae","Microviridae","Tectiviridae","Mimiviridae","Anelloviridae","Myoviridae","Baculoviridae","Inoviridae","Siphoviridae","Asfarviridae","Podoviridae","Papillomaviridae","Polydnaviridae","Ascoviridae","Circoviridae","Alloherpesviridae","Sphaerolipoviridae","Herpesviridae","Poxviridae","Phycodnaviridae","Astroviridae","Iridoviridae","Unclassified_Family","Parvoviridae"]},
     "xOffset": {"field": "grp", "type": "nominal", "sort": ["Control","CDI"]},
     "y": {"field": "med", "type": "quantitative", "scale": {"domain": [-0.05, 1.04], "nice": false, "zero": false}},
     "y2": {"field": "med"}}},
   {"data": {"name": "eOut"}, "mark": {"type": "point", "filled": true, "color": "#333333", "size": 16, "opacity": 1},
    "encoding": {
     "x": {"field": "cat", "type": "nominal", "sort": ["Nudiviridae","Microviridae","Tectiviridae","Mimiviridae","Anelloviridae","Myoviridae","Baculoviridae","Inoviridae","Siphoviridae","Asfarviridae","Podoviridae","Papillomaviridae","Polydnaviridae","Ascoviridae","Circoviridae","Alloherpesviridae","Sphaerolipoviridae","Herpesviridae","Poxviridae","Phycodnaviridae","Astroviridae","Iridoviridae","Unclassified_Family","Parvoviridae"]},
     "xOffset": {"field": "grp", "type": "nominal", "sort": ["Control","CDI"]},
     "y": {"field": "v", "type": "quantitative", "scale": {"domain": [-0.05, 1.04], "nice": false, "zero": false}}}},
   {"data": {"name": "eSig"}, "mark": {"type": "tick", "color": "black", "size": 12, "thickness": 1.2},
    "encoding": {
     "x": {"field": "cat", "type": "nominal", "sort": ["Nudiviridae","Microviridae","Tectiviridae","Mimiviridae","Anelloviridae","Myoviridae","Baculoviridae","Inoviridae","Siphoviridae","Asfarviridae","Podoviridae","Papillomaviridae","Polydnaviridae","Ascoviridae","Circoviridae","Alloherpesviridae","Sphaerolipoviridae","Herpesviridae","Poxviridae","Phycodnaviridae","Astroviridae","Iridoviridae","Unclassified_Family","Parvoviridae"]},
     "y": {"field": "y", "type": "quantitative", "scale": {"domain": [-0.05, 1.04], "nice": false, "zero": false}}}},
   {"data": {"name": "eSig"}, "mark": {"type": "text", "fontSize": 13, "baseline": "middle"},
    "encoding": {
     "x": {"field": "cat", "type": "nominal", "sort": ["Nudiviridae","Microviridae","Tectiviridae","Mimiviridae","Anelloviridae","Myoviridae","Baculoviridae","Inoviridae","Siphoviridae","Asfarviridae","Podoviridae","Papillomaviridae","Polydnaviridae","Ascoviridae","Circoviridae","Alloherpesviridae","Sphaerolipoviridae","Herpesviridae","Poxviridae","Phycodnaviridae","Astroviridae","Iridoviridae","Unclassified_Family","Parvoviridae"]},
     "y": {"field": "ty", "type": "quantitative", "scale": {"domain": [-0.05, 1.04], "nice": false, "zero": false}},
     "text": {"field": "t"}}}
  ]
 }
], "spacing": 39,
"resolve": {"scale": {"color": "independent", "shape": "independent", "xOffset": "independent"}, "legend": {"color": "independent", "shape": "independent"}}},
{"hconcat": [
 {"width": 67, "height": 176, "data": {"values": [{}]}, "mark": {"type": "point", "opacity": 0}, "encoding": {},
  "title": {"text": "F", "anchor": "start", "frame": "group", "offset": 0, "baseline": "alphabetic", "dx": 10, "dy": -33, "fontSize": 18}},
 {"hconcat": [
  {
   "width": 175, "height": 176,
   "title": {"text": "CDI", "orient": "bottom", "anchor": "middle", "fontSize": 17, "offset": 3},
   "layer": [
    {"data": {"name": "corr"}, "transform": [{"filter": "datum.panel == 'CDI'"}], "mark": {"type": "rect", "fill": "white", "stroke": "#d0d0d0", "strokeWidth": 1},
     "encoding": {
      "x": {"field": "col", "type": "nominal", "sort": ["Microviridae","Anelloviridae"], "scale": {"paddingInner": 0, "paddingOuter": 0}, "axis": null},
      "y": {"field": "row", "type": "nominal", "sort": ["Anelloviridae","Caudovirales"], "scale": {"paddingInner": 0, "paddingOuter": 0},
            "axis": {"title": null, "domain": false, "ticks": false, "labelFontSize": 10.5, "labelColor": "black", "labelPadding": 5}}}},
    {"data": {"name": "corr"}, "transform": [{"filter": "datum.panel == 'CDI'"}], "mark": {"type": "point", "filled": true, "shape": "circle", "opacity": 1},
     "encoding": {
      "x": {"field": "col", "type": "nominal", "sort": ["Microviridae","Anelloviridae"]},
      "y": {"field": "row", "type": "nominal", "sort": ["Anelloviridae","Caudovirales"]},
      "size": {"field": "mag", "type": "quantitative", "scale": {"domain": [0, 1], "range": [0, 4926]}, "legend": null},
      "color": {"field": "r", "type": "quantitative", "scale": {"scheme": "redblue", "domain": [-1, 1]},
        "legend": {"title": null, "orient": "none", "legendX": 0, "legendY": 178, "direction": "horizontal", "gradientLength": 175, "gradientThickness": 6, "values": [-1,-0.8,-0.6,-0.4,-0.2,0,0.2,0.4,0.6,0.8,1], "labelExpr": "'' + datum.value", "labelFontSize": 8.5, "labelColor": "black", "labelOverlap": false, "labelOffset": 2, "padding": 0}}}},
    {"data": {"name": "corr"}, "transform": [{"filter": "datum.panel == 'CDI'"}], "mark": {"type": "text", "fontSize": 15, "baseline": "middle"},
     "encoding": {
      "x": {"field": "col", "type": "nominal", "sort": ["Microviridae","Anelloviridae"], "bandPosition": 0.82},
      "y": {"field": "row", "type": "nominal", "sort": ["Anelloviridae","Caudovirales"], "bandPosition": 0.17},
      "text": {"field": "sig"}}},
    {"data": {"name": "clab"}, "mark": {"type": "text", "angle": -90, "align": "left", "baseline": "middle", "dx": 4, "fontSize": 11},
     "encoding": {
      "x": {"field": "col", "type": "nominal", "sort": ["Microviridae","Anelloviridae"]},
      "y": {"field": "row", "type": "nominal", "sort": ["Anelloviridae","Caudovirales"], "bandPosition": 0},
      "text": {"field": "col"}}}
   ]
  },
  {
   "width": 175, "height": 176,
   "title": {"text": "Control", "orient": "bottom", "anchor": "middle", "fontSize": 17, "offset": 3},
   "layer": [
    {"data": {"name": "corr"}, "transform": [{"filter": "datum.panel == 'Control'"}], "mark": {"type": "rect", "fill": "white", "stroke": "#d0d0d0", "strokeWidth": 1},
     "encoding": {
      "x": {"field": "col", "type": "nominal", "sort": ["Microviridae","Anelloviridae"], "scale": {"paddingInner": 0, "paddingOuter": 0}, "axis": null},
      "y": {"field": "row", "type": "nominal", "sort": ["Anelloviridae","Caudovirales"], "scale": {"paddingInner": 0, "paddingOuter": 0},
            "axis": {"title": null, "domain": false, "ticks": false, "labelFontSize": 10.5, "labelColor": "black", "labelPadding": 5}}}},
    {"data": {"name": "corr"}, "transform": [{"filter": "datum.panel == 'Control'"}], "mark": {"type": "point", "filled": true, "shape": "circle", "opacity": 1},
     "encoding": {
      "x": {"field": "col", "type": "nominal", "sort": ["Microviridae","Anelloviridae"]},
      "y": {"field": "row", "type": "nominal", "sort": ["Anelloviridae","Caudovirales"]},
      "size": {"field": "mag", "type": "quantitative", "scale": {"domain": [0, 1], "range": [0, 4926]}, "legend": null},
      "color": {"field": "r", "type": "quantitative", "scale": {"scheme": "redblue", "domain": [-1, 1]},
        "legend": {"title": null, "orient": "none", "legendX": 0, "legendY": 178, "direction": "horizontal", "gradientLength": 175, "gradientThickness": 6, "values": [-1,-0.8,-0.6,-0.4,-0.2,0,0.2,0.4,0.6,0.8,1], "labelExpr": "'' + datum.value", "labelFontSize": 8.5, "labelColor": "black", "labelOverlap": false, "labelOffset": 2, "padding": 0}}}},
    {"data": {"name": "corr"}, "transform": [{"filter": "datum.panel == 'Control'"}], "mark": {"type": "text", "fontSize": 15, "baseline": "middle"},
     "encoding": {
      "x": {"field": "col", "type": "nominal", "sort": ["Microviridae","Anelloviridae"], "bandPosition": 0.82},
      "y": {"field": "row", "type": "nominal", "sort": ["Anelloviridae","Caudovirales"], "bandPosition": 0.17},
      "text": {"field": "sig"}}},
    {"data": {"name": "clab"}, "mark": {"type": "text", "angle": -90, "align": "left", "baseline": "middle", "dx": 4, "fontSize": 11},
     "encoding": {
      "x": {"field": "col", "type": "nominal", "sort": ["Microviridae","Anelloviridae"]},
      "y": {"field": "row", "type": "nominal", "sort": ["Anelloviridae","Caudovirales"], "bandPosition": 0},
      "text": {"field": "col"}}}
   ]
  }
 ], "spacing": 116, "bounds": "flush",
 "resolve": {"scale": {"color": "independent", "size": "independent"}, "legend": {"color": "independent", "size": "independent"}}}
], "spacing": 0, "bounds": "flush",
"resolve": {"scale": {"color": "independent", "size": "independent"}, "legend": {"color": "independent", "size": "independent"}}}
],
"spacing": 11,
"resolve": {"scale": {"color": "independent", "shape": "independent", "size": "independent", "xOffset": "independent"}, "legend": {"color": "independent", "shape": "independent", "size": "independent"}}
}
